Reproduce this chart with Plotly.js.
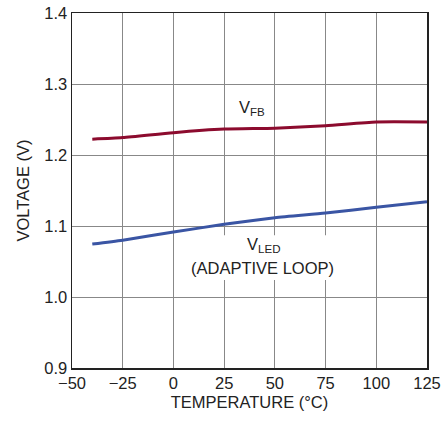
<!DOCTYPE html>
<html><head><meta charset="utf-8">
<script src="https://cdn.plot.ly/plotly-3.0.1.min.js"></script>
<style>html,body{margin:0;padding:0;background:#fff}#chart{width:443px;height:425px}</style>
</head><body><div id="chart"></div>
<script>
const temperature = [-40, -25, 0, 25, 50, 75, 100, 125];
const vfb  = [1.2222, 1.2245, 1.2315, 1.2365, 1.2378, 1.2412, 1.2465, 1.2465];
const vled = [1.0745, 1.0800, 1.0915, 1.1024, 1.1117, 1.1183, 1.1263, 1.1340];
const xTicks = [-50, -25, 0, 25, 50, 75, 100, 125];
const yTicks = [0.9, 1.0, 1.1, 1.2, 1.3, 1.4];
const yTickText = ['0.9', '1.0', '1.1', '1.2', '1.3', '1.4'];

const FONT = '"Liberation Sans Narrow", "Arial Narrow", "Liberation Sans", Arial, sans-serif';
const SZ = 16.5;

const traces = [
  {x: temperature, y: vfb, mode: 'lines', line: {color: '#8c0b2e', width: 3, shape: 'spline', smoothing: 0.6}, hoverinfo: 'skip'},
  {x: temperature, y: vled, mode: 'lines', line: {color: '#3a55a4', width: 3, shape: 'spline', smoothing: 0.6}, hoverinfo: 'skip'}
];

const layout = {
  width: 443, height: 425,
  margin: {l: 72, r: 16, t: 13, b: 57},
  paper_bgcolor: '#fff', plot_bgcolor: '#fff',
  showlegend: false,
  font: {family: FONT, size: SZ, color: '#222'},
  xaxis: {
    range: [-50, 125], tickvals: xTicks, ticks: '',
    showgrid: true, gridcolor: '#888', gridwidth: 1,
    showline: true, mirror: true, linecolor: '#222', linewidth: 1.5,
    zeroline: false, tickfont: {family: FONT, size: SZ, color: '#222'},
    title: {text: 'TEMPERATURE (°C)', font: {family: FONT, size: SZ, color: '#222'}, standoff: 5}
  },
  yaxis: {
    range: [0.9, 1.4], tickvals: yTicks, ticktext: yTickText, ticks: '',
    showgrid: true, gridcolor: '#888', gridwidth: 1,
    showline: true, mirror: true, linecolor: '#222', linewidth: 1.5,
    zeroline: false, tickfont: {family: FONT, size: SZ, color: '#222'},
    title: {text: 'VOLTAGE (V)', font: {family: FONT, size: SZ, color: '#222'}, standoff: 10}
  },
  shapes: [
    {type: 'rect', xref: 'x', yref: 'y', x0: 9.6, x1: 77.6, y0: 1.024, y1: 1.087,
     fillcolor: '#fff', line: {width: 0}, layer: 'above'}
  ],
  annotations: [
    {x: 38.5, y: 1.266, xref: 'x', yref: 'y', showarrow: false,
     text: 'V<sub>FB</sub>', font: {family: FONT, size: SZ, color: '#222'}},
    {x: 44.5, y: 1.073, xref: 'x', yref: 'y', showarrow: false,
     text: 'V<sub>LED</sub>', font: {family: FONT, size: SZ, color: '#222'}},
    {x: 44, y: 1.041, xref: 'x', yref: 'y', showarrow: false,
     text: '(ADAPTIVE LOOP)', font: {family: FONT, size: SZ, color: '#222'}}
  ]
};
Plotly.newPlot('chart', traces, layout, {staticPlot: true});
</script></body></html>
